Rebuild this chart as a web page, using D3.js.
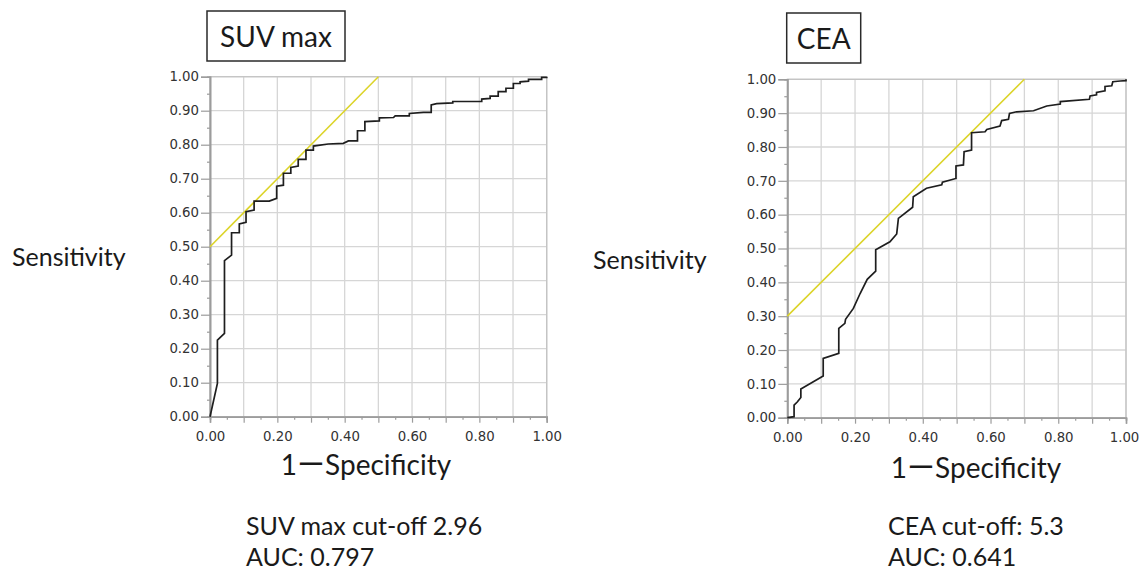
<!DOCTYPE html>
<html>
<head>
<meta charset="utf-8">
<script src="https://cdn.jsdelivr.net/npm/d3@7"></script>
<style>
  html, body { margin: 0; padding: 0; background: #fff; }
  svg { display: block; }
  .tick text { font-family: "DejaVu Sans", sans-serif; font-size: 13.3px; fill: #333; }
  .lbl { font-family: Lato, "Open Sans", sans-serif; fill: #1a1a1a; }
</style>
</head>
<body>
<svg id="chart" width="1140" height="570"></svg>
<script>
// ---------- data ----------
const majorTicks = [0, 0.1, 0.2, 0.3, 0.4, 0.5, 0.6, 0.7, 0.8, 0.9, 1.0];
const minorTicks = [0.05, 0.15, 0.25, 0.35, 0.45, 0.55, 0.65, 0.75, 0.85, 0.95];
const xLabelTicks = [0, 0.2, 0.4, 0.6, 0.8, 1.0];

const suvTitle = "SUV max";
const suvNotes = ["SUV max cut-off 2.96", "AUC: 0.797"];
const suvFpr = [0, 0.022, 0.022, 0.043, 0.043, 0.064, 0.064, 0.087, 0.087, 0.107, 0.107, 0.131, 0.131, 0.176, 0.198, 0.198, 0.218, 0.218, 0.240, 0.240, 0.262, 0.262, 0.285, 0.285, 0.307, 0.307, 0.351, 0.396, 0.411, 0.438, 0.438, 0.460, 0.460, 0.503, 0.503, 0.545, 0.550, 0.592, 0.592, 0.634, 0.657, 0.657, 0.673, 0.721, 0.721, 0.807, 0.807, 0.832, 0.832, 0.856, 0.856, 0.879, 0.879, 0.901, 0.901, 0.921, 0.921, 0.946, 0.946, 0.985, 0.985, 1.0, 1.0];
const suvTpr = [0, 0.098, 0.225, 0.245, 0.459, 0.475, 0.541, 0.541, 0.567, 0.572, 0.603, 0.608, 0.634, 0.634, 0.642, 0.678, 0.681, 0.716, 0.716, 0.733, 0.737, 0.757, 0.757, 0.784, 0.784, 0.796, 0.802, 0.804, 0.811, 0.811, 0.841, 0.841, 0.868, 0.870, 0.879, 0.880, 0.885, 0.885, 0.892, 0.895, 0.895, 0.917, 0.921, 0.923, 0.927, 0.927, 0.934, 0.936, 0.943, 0.943, 0.956, 0.956, 0.966, 0.966, 0.980, 0.980, 0.985, 0.987, 0.992, 0.992, 0.998, 0.998, 1.0];
const suvCutLine = [[0, 0.5], [0.5, 1.0]];

const ceaTitle = "CEA";
const ceaNotes = ["CEA cut-off: 5.3", "AUC: 0.641"];
const ceaFpr = [0, 0.020, 0.020, 0.030, 0.040, 0.040, 0.106, 0.106, 0.152, 0.152, 0.170, 0.172, 0.195, 0.215, 0.236, 0.261, 0.261, 0.303, 0.323, 0.328, 0.370, 0.372, 0.411, 0.456, 0.458, 0.498, 0.498, 0.520, 0.522, 0.544, 0.544, 0.584, 0.589, 0.628, 0.633, 0.653, 0.656, 0.677, 0.727, 0.766, 0.806, 0.806, 0.892, 0.894, 0.913, 0.913, 0.938, 0.938, 0.958, 0.961, 0.983, 1.0, 1.0];
const ceaTpr = [0, 0.003, 0.037, 0.047, 0.060, 0.085, 0.123, 0.175, 0.190, 0.264, 0.279, 0.291, 0.323, 0.367, 0.409, 0.433, 0.496, 0.520, 0.543, 0.589, 0.622, 0.653, 0.678, 0.688, 0.696, 0.707, 0.744, 0.747, 0.786, 0.791, 0.842, 0.845, 0.852, 0.862, 0.878, 0.882, 0.899, 0.904, 0.907, 0.921, 0.927, 0.934, 0.941, 0.951, 0.954, 0.961, 0.966, 0.979, 0.981, 0.993, 0.995, 0.996, 1.0];
const ceaCutLine = [[0, 0.3], [0.7, 1.0]];

// ---------- drawing ----------
const svg = d3.select("#chart");

function drawROC(cfg) {
  const x = d3.scaleLinear().domain([0, 1]).range([cfg.x0, cfg.x1]);
  const y = d3.scaleLinear().domain([0, 1]).range([cfg.y0, cfg.y1]);
  const g = svg.append("g");

  // grid
  g.append("g").selectAll("line.gx").data(majorTicks).join("line")
    .attr("x1", d => x(d)).attr("x2", d => x(d))
    .attr("y1", y(0)).attr("y2", y(1))
    .attr("stroke", "#d6d6d6").attr("stroke-width", 1.3);
  g.append("g").selectAll("line.gy").data(majorTicks).join("line")
    .attr("x1", x(0)).attr("x2", x(1))
    .attr("y1", d => y(d)).attr("y2", d => y(d))
    .attr("stroke", "#d6d6d6").attr("stroke-width", 1.3);
  // frame top/right
  g.append("rect").attr("x", x(0)).attr("y", y(1))
    .attr("width", x(1) - x(0)).attr("height", y(0) - y(1))
    .attr("fill", "none").attr("stroke", "#c4c4c4").attr("stroke-width", 1.3);

  // y axis
  g.append("g").attr("transform", `translate(${x(0)},0)`)
    .call(d3.axisLeft(y).tickValues(majorTicks).tickFormat(d3.format(".2f")).tickSize(9).tickPadding(2));
  g.append("g").attr("transform", `translate(${x(0)},0)`)
    .call(d3.axisLeft(y).tickValues(minorTicks).tickFormat("").tickSize(3));
  // x axis
  const xa = g.append("g").attr("transform", `translate(0,${y(0)})`)
    .call(d3.axisBottom(x).tickValues(majorTicks)
      .tickFormat(d => xLabelTicks.some(v => Math.abs(v - d) < 1e-9) ? d3.format(".2f")(d) : "")
      .tickSize(6).tickPadding(9));
  // keep the last label inside the page
  xa.selectAll(".tick text").filter(d => d === 1).attr("dx", cfg.lastDx || 0);
  g.append("g").attr("transform", `translate(0,${y(0)})`)
    .call(d3.axisBottom(x).tickValues(minorTicks).tickFormat("").tickSize(3));
  g.selectAll(".domain").attr("stroke", "#9c9c9c").attr("stroke-width", 1.6);
  g.selectAll(".tick line").attr("stroke", "#9c9c9c").attr("stroke-width", 1.2);

  // cut-off line
  g.append("path").datum(cfg.cut)
    .attr("d", d3.line().x(d => x(d[0])).y(d => y(d[1])))
    .attr("fill", "none").attr("stroke", "#dcd42a").attr("stroke-width", 1.6);

  // ROC curve
  const pts = cfg.fpr.map((f, i) => [f, cfg.tpr[i]]);
  g.append("path").datum(pts)
    .attr("d", d3.line().x(d => x(d[0])).y(d => y(d[1])))
    .attr("fill", "none").attr("stroke", "#1e1e1e").attr("stroke-width", 1.7)
    .attr("stroke-linejoin", "miter");

  // title box
  g.append("rect").attr("x", cfg.box[0]).attr("y", cfg.box[1])
    .attr("width", cfg.box[2]).attr("height", cfg.box[3])
    .attr("fill", "#fff").attr("stroke", "#2a2a2a").attr("stroke-width", 1.5);
  g.append("text").attr("class", "lbl")
    .attr("x", cfg.box[0] + cfg.box[2] / 2).attr("y", cfg.box[1] + 36)
    .attr("text-anchor", "middle").attr("font-size", 28).text(cfg.title);

  // y label
  g.append("text").attr("class", "lbl").attr("x", cfg.ylab[0]).attr("y", cfg.ylab[1])
    .attr("font-size", 25).text("Sensitivity");
  // x label
  const xl = g.append("text").attr("class", "lbl").attr("x", cfg.xlab[0]).attr("y", cfg.xlab[1])
    .attr("text-anchor", "middle").attr("font-size", 28);
  xl.append("tspan").text("1");
  xl.append("tspan").attr("font-family", "'Noto Sans CJK JP', sans-serif").text("\u30FC");
  xl.append("tspan").text("Specificity");
  // notes
  g.append("g").selectAll("text").data(cfg.notes).join("text").attr("class", "lbl")
    .attr("x", cfg.note[0]).attr("y", (d, i) => cfg.note[1] + i * 31)
    .attr("font-size", 25).text(d => d);
}

drawROC({
  x0: 210, x1: 546.7, y0: 416.7, y1: 76.7,
  fpr: suvFpr, tpr: suvTpr, cut: suvCutLine,
  title: suvTitle, box: [207, 11, 138, 50],
  ylab: [12, 266], xlab: [366, 475], notes: suvNotes, note: [246, 535]
});
drawROC({
  x0: 787.3, x1: 1126, y0: 417.7, y1: 79.3,
  fpr: ceaFpr, tpr: ceaTpr, cut: ceaCutLine,
  title: ceaTitle, box: [786.7, 13, 74, 50],
  ylab: [593, 269], xlab: [976, 478], notes: ceaNotes, note: [888, 535],
  lastDx: -2
});
</script>
</body>
</html>
